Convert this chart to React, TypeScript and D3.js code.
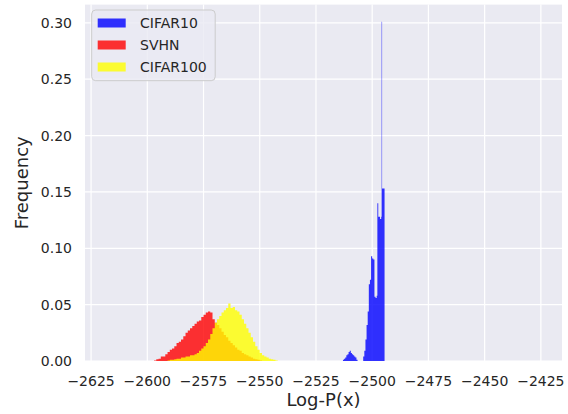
import React from 'react';
import * as d3 from 'd3';

const xTicks = [-2625, -2600, -2575, -2550, -2525, -2500, -2475, -2450, -2425];
const yTicks = [0, 0.05, 0.1, 0.15, 0.2, 0.25, 0.3];
const seriesNames = ['CIFAR10', 'SVHN', 'CIFAR100'];
const seriesColors = ['blue', 'red', 'yellow'];

const blueEdges = [
  -2513, -2512.5, -2512, -2511.5, -2511, -2510.5, -2510, -2509.5, -2509, -2508.5, -2508, -2507.5, -2507, -2506.5,
  -2504, -2503.5, -2503, -2502.5, -2502, -2501.5, -2501, -2500.5, -2500, -2499.5, -2499, -2498.5, -2498,
  -2497.7, -2497.3, -2496.5, -2496, -2495.8, -2495.6, -2494.5,
];
const blueValues = [
  0.001, 0.002, 0.003, 0.005, 0.006, 0.008, 0.009, 0.007, 0.006, 0.005, 0.004, 0.003, 0.001,
  0,
  0.004, 0.009, 0.019, 0.032, 0.044, 0.068, 0.072, 0.093, 0.091, 0.09, 0.057, 0.056, 0.058,
  0.14, 0.128, 0.126, 0.128, 0.301, 0.153,
];

const redStart = -2597;
const redWidth = 1;
const redValues = [
  0.0005, 0.0015, 0.002, 0.004, 0.004, 0.006, 0.008, 0.01, 0.011, 0.013,
  0.016, 0.017, 0.019, 0.022, 0.025, 0.027, 0.029, 0.031, 0.033, 0.035,
  0.036, 0.039, 0.041, 0.043, 0.044, 0.043, 0.037, 0.034, 0.032, 0.029,
  0.026, 0.023, 0.021, 0.018, 0.016, 0.014, 0.012, 0.01, 0.009, 0.007,
  0.006, 0.005, 0.004, 0.003, 0.002, 0.0015, 0.001, 0.0005,
];

const yellowStart = -2591;
const yellowWidth = 1;
const yellowValues = [
  0.0005, 0.001, 0.001, 0.0015, 0.002, 0.002, 0.003, 0.003, 0.004, 0.004,
  0.005, 0.005, 0.006, 0.007, 0.009, 0.011, 0.013, 0.016, 0.019, 0.024,
  0.029, 0.034, 0.037, 0.04, 0.043, 0.045, 0.047, 0.051, 0.047, 0.048,
  0.045, 0.044, 0.041, 0.037, 0.033, 0.029, 0.025, 0.021, 0.017, 0.013,
  0.01, 0.007, 0.005, 0.004, 0.003, 0.002, 0.0015, 0.001, 0.0005,
];

const W = 568;
const H = 414;
const left = 85;
const right = 562;
const top = 4.6;
const bottom = 361;
const FONT = 'DejaVu Sans, sans-serif';
const TEXT = '#262626';
const BG = '#EAEAF2';

function uniformEdges(start: number, width: number, n: number) {
  const e: number[] = [];
  for (let i = 0; i <= n; i++) e.push(start + i * width);
  return e;
}

export default function App() {
  const x = d3.scaleLinear().domain([-2627.7, -2415.6]).range([left, right]);
  const y = d3.scaleLinear().domain([0, 0.3162]).range([bottom, top]);

  const series = [
    { edges: blueEdges, values: blueValues },
    { edges: uniformEdges(redStart, redWidth, redValues.length), values: redValues },
    { edges: uniformEdges(yellowStart, yellowWidth, yellowValues.length), values: yellowValues },
  ];

  const pathFor = (edges: number[], values: number[]) => {
    const p = d3.path();
    values.forEach((v, i) => {
      if (v <= 0) return;
      const x0 = x(edges[i]);
      const x1 = x(edges[i + 1]);
      p.rect(x0, y(v), x1 - x0, y(0) - y(v));
    });
    return p.toString();
  };

  return (
    <svg width={W} height={H} style={{ position: 'absolute', left: 0, top: 0 }} fontFamily={FONT}>
      <rect x={0} y={0} width={W} height={H} fill="white" />
      <rect x={left} y={top} width={right - left} height={bottom - top} fill={BG} />
      {xTicks.map((t) => (
        <line key={'gx' + t} x1={x(t)} x2={x(t)} y1={top} y2={bottom} stroke="white" strokeWidth={1.2} />
      ))}
      {yTicks.map((t) => (
        <line key={'gy' + t} x1={left} x2={right} y1={y(t)} y2={y(t)} stroke="white" strokeWidth={1.2} />
      ))}
      {series.map((s, i) => (
        <path key={'s' + i} d={pathFor(s.edges, s.values)} fill={seriesColors[i]} fillOpacity={0.8} />
      ))}
      {xTicks.map((t) => (
        <text key={'tx' + t} x={x(t)} y={386} textAnchor="middle" fontSize={14} fill={TEXT}>
          {d3.format('d')(t).replace('-', '\u2212')}
        </text>
      ))}
      {yTicks.map((t) => (
        <text key={'ty' + t} x={72} y={y(t)} dy="0.36em" textAnchor="end" fontSize={14} fill={TEXT}>
          {d3.format('.2f')(t)}
        </text>
      ))}
      <text x={(left + right) / 2} y={406} textAnchor="middle" fontSize={18} fill={TEXT}>
        Log-P(x)
      </text>
      <text
        transform={`translate(27.5, ${(top + bottom) / 2}) rotate(-90)`}
        textAnchor="middle"
        fontSize={18}
        fill={TEXT}
      >
        Frequency
      </text>
      <g>
        <rect x={91.7} y={10} width={123.5} height={70.7} rx={4} fill={BG} fillOpacity={0.8} stroke="#cccccc" strokeWidth={1} />
        {seriesNames.map((n, i) => {
          const cy = 23 + i * 22;
          return (
            <g key={n}>
              <rect x={97.7} y={cy - 4.5} width={28} height={9} fill={seriesColors[i]} fillOpacity={0.8} />
              <text x={140} y={cy} dy="0.36em" fontSize={14} fill={TEXT}>
                {n}
              </text>
            </g>
          );
        })}
      </g>
    </svg>
  );
}
